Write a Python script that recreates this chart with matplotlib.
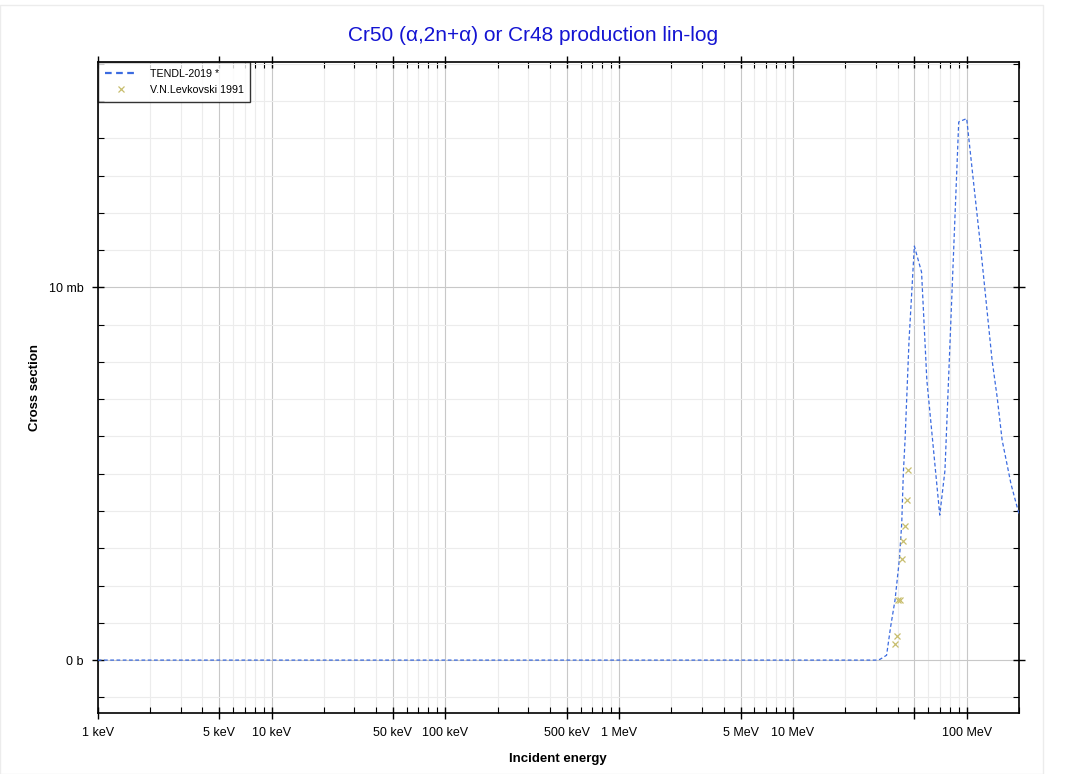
import matplotlib
matplotlib.use("Agg")
import matplotlib.pyplot as plt
import matplotlib.ticker as mticker
from matplotlib.patches import Rectangle

plt.rcParams['font.family'] = ['Liberation Sans', 'DejaVu Sans']

# TENDL-2019 evaluated curve (energy in eV, cross section in mb)
tendl_E = [1e3, 3.0e7, 3.17e7, 3.46e7, 3.65e7, 3.87e7, 4.10e7, 4.23e7, 4.32e7, 4.42e7,
           4.66e7, 5.0e7, 5.5e7, 5.9e7, 7.0e7, 7.5e7, 9.0e7, 1.0e8, 1.1e8, 1.2e8,
           1.4e8, 1.5e8, 1.6e8, 1.8e8, 2.0e8]
tendl_xs = [0.0, 0.0, 0.02, 0.13, 0.89, 1.61, 2.70, 3.67, 5.01, 5.90,
            8.58, 11.11, 10.41, 7.51, 3.89, 5.09, 14.44, 14.53, 12.74, 11.13,
            8.05, 7.03, 5.90, 4.72, 3.92]

# V.N.Levkovski 1991 experimental points
exp_E = [4.61e7, 4.52e7, 4.42e7, 4.32e7, 4.23e7, 4.04e7, 4.13e7, 3.96e7, 3.87e7]
exp_xs = [5.09, 4.30, 3.60, 3.19, 2.71, 1.60, 1.60, 0.65, 0.43]

fig = plt.figure(figsize=(10.67, 7.74), dpi=100)
ax = fig.add_axes([0.0916, 0.0788, 0.8634, 0.8412])

# faint outer border
fig.patches.append(Rectangle((0.0, 0.0), 1043/1067, 769/774, transform=fig.transFigure,
                             fill=False, edgecolor='#ececec', linewidth=1.0))

ax.plot(tendl_E, tendl_xs, linestyle=(0, (3, 2)), color='#3b6be0', linewidth=0.9,
        label='TENDL-2019 *', zorder=3)
ax.plot(exp_E, exp_xs, linestyle='none', marker='x', markersize=5, markeredgewidth=0.9,
        color='#c8be6e', label='V.N.Levkovski 1991', zorder=4)

ax.set_xscale('log')
ax.set_xlim(1e3, 2.0e8)
ax.set_ylim(-1.42, 16.05)

major_x = [1e3, 5e3, 1e4, 5e4, 1e5, 5e5, 1e6, 5e6, 1e7, 5e7, 1e8]
major_lbl = ['1 keV', '5 keV', '10 keV', '50 keV', '100 keV', '500 keV', '1 MeV',
             '5 MeV', '10 MeV', '', '100 MeV']
ax.xaxis.set_major_locator(mticker.FixedLocator(major_x))
ax.xaxis.set_major_formatter(mticker.FixedFormatter(major_lbl))
minor_x = []
for dec in [1e3, 1e4, 1e5, 1e6, 1e7, 1e8]:
    for m in [2, 3, 4, 6, 7, 8, 9]:
        v = dec * m
        if v <= 2.0e8:
            minor_x.append(v)
ax.xaxis.set_minor_locator(mticker.FixedLocator(minor_x))
ax.xaxis.set_minor_formatter(mticker.NullFormatter())

ax.yaxis.set_major_locator(mticker.FixedLocator([0, 10]))
ax.yaxis.set_major_formatter(mticker.FixedFormatter(['0 b', '10 mb']))
ax.yaxis.set_minor_locator(mticker.MultipleLocator(1))

ax.grid(which='major', color='#c8c8c8', linewidth=0.8)
ax.grid(which='minor', color='#ececec', linewidth=0.8)
ax.set_axisbelow(True)

ax.tick_params(which='major', direction='inout', length=8, width=1, top=True, right=True,
               labelsize=9, pad=6)
ax.tick_params(which='minor', direction='in', length=4, width=0.8, top=True, right=True)
for s in ax.spines.values():
    s.set_linewidth(1.2)

ax.set_xlabel('Incident energy', fontsize=9.5, fontweight='bold', labelpad=10)
ax.set_ylabel('Cross section', fontsize=9.5, fontweight='bold', labelpad=6)
fig.suptitle('Cr50 (α,2n+α) or Cr48 production lin-log', y=0.966, fontsize=15,
             color='#1414d2')

leg = ax.legend(loc='upper left', fontsize=7.7, frameon=True, fancybox=False,
                edgecolor='black', borderaxespad=0.0, handlelength=3.0,
                handletextpad=1.2, borderpad=0.65, labelspacing=0.55)
leg.get_frame().set_linewidth(1.0)
leg.legend_handles[0].set_linewidth(1.6)

fig.savefig('out.png', dpi=100)
